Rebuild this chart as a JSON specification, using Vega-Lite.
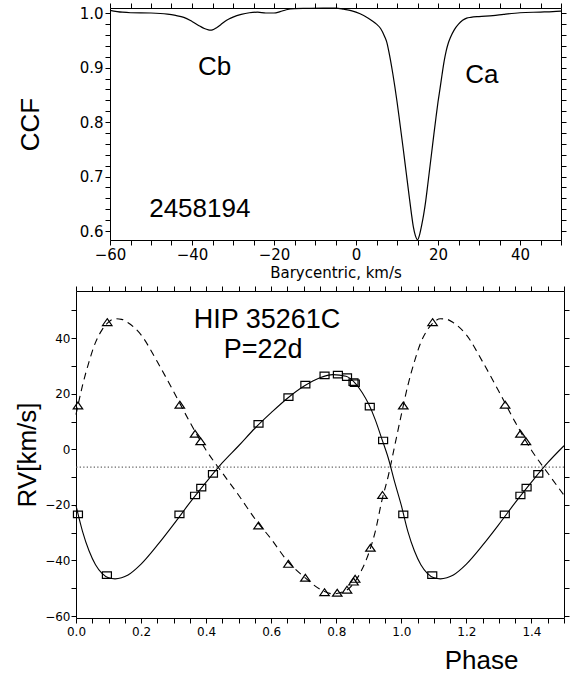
{
  "$schema": "https://vega.github.io/schema/vega-lite/v6.json",
  "padding": {"left": 14, "top": 2, "right": 3, "bottom": 0},
  "background": "white",
  "config": {
    "view": {"stroke": null},
    "axis": {"domainColor": "black", "labelColor": "black", "titleColor": "black", "grid": false, "labelFont": "DejaVu Sans", "titleFont": "Liberation Sans", "titleFontWeight": "normal", "labelFlush": false, "labelOverlap": false}
  },
  "spacing": 5,
  "datasets": {
    "ccf": [
      {"v": -60, "ccf": 1.0055}, {"v": -57, "ccf": 1.002}, {"v": -55, "ccf": 1.001}, {"v": -50, "ccf": 1.0005},
      {"v": -46, "ccf": 0.9985}, {"v": -44, "ccf": 0.996}, {"v": -42, "ccf": 0.9925}, {"v": -40, "ccf": 0.985},
      {"v": -38, "ccf": 0.976}, {"v": -37, "ccf": 0.972}, {"v": -36, "ccf": 0.9695}, {"v": -35.5, "ccf": 0.969},
      {"v": -35, "ccf": 0.9695}, {"v": -34, "ccf": 0.9735}, {"v": -33, "ccf": 0.979}, {"v": -32, "ccf": 0.985},
      {"v": -31, "ccf": 0.9895}, {"v": -30, "ccf": 0.993}, {"v": -28, "ccf": 0.998}, {"v": -26, "ccf": 1.001},
      {"v": -24, "ccf": 1.002}, {"v": -22, "ccf": 1.0005}, {"v": -20, "ccf": 1.0005}, {"v": -18.5, "ccf": 1.003},
      {"v": -17, "ccf": 1.0065}, {"v": -15, "ccf": 1.0085}, {"v": -12, "ccf": 1.009}, {"v": -8, "ccf": 1.0095},
      {"v": -5, "ccf": 1.0095}, {"v": -3, "ccf": 1.0075}, {"v": -1, "ccf": 1.0045}, {"v": 1, "ccf": 0.999},
      {"v": 3, "ccf": 0.991}, {"v": 4, "ccf": 0.986}, {"v": 5, "ccf": 0.98}, {"v": 6, "ccf": 0.972},
      {"v": 7, "ccf": 0.957}, {"v": 7.5, "ccf": 0.947}, {"v": 8, "ccf": 0.93}, {"v": 9, "ccf": 0.888},
      {"v": 10, "ccf": 0.838}, {"v": 10.5, "ccf": 0.81}, {"v": 11, "ccf": 0.781}, {"v": 11.5, "ccf": 0.752},
      {"v": 12, "ccf": 0.722}, {"v": 12.5, "ccf": 0.692}, {"v": 13, "ccf": 0.662}, {"v": 13.5, "ccf": 0.633},
      {"v": 14, "ccf": 0.607}, {"v": 14.5, "ccf": 0.591}, {"v": 15, "ccf": 0.584}, {"v": 15.5, "ccf": 0.593},
      {"v": 16, "ccf": 0.61}, {"v": 16.5, "ccf": 0.63}, {"v": 17, "ccf": 0.655}, {"v": 17.5, "ccf": 0.685},
      {"v": 18, "ccf": 0.716}, {"v": 18.5, "ccf": 0.747}, {"v": 19, "ccf": 0.778}, {"v": 19.5, "ccf": 0.808},
      {"v": 20, "ccf": 0.837}, {"v": 20.5, "ccf": 0.862}, {"v": 21, "ccf": 0.888}, {"v": 21.5, "ccf": 0.912},
      {"v": 22, "ccf": 0.931}, {"v": 22.5, "ccf": 0.945}, {"v": 23, "ccf": 0.955}, {"v": 24, "ccf": 0.97},
      {"v": 25, "ccf": 0.98}, {"v": 26, "ccf": 0.987}, {"v": 27, "ccf": 0.991}, {"v": 28, "ccf": 0.9925},
      {"v": 30, "ccf": 0.994}, {"v": 33.4, "ccf": 0.9956}, {"v": 36, "ccf": 0.998}, {"v": 40, "ccf": 1.001},
      {"v": 45, "ccf": 1.0022}, {"v": 48, "ccf": 1.003}, {"v": 50, "ccf": 1.004}
    ],
    "ccflabels": [
      {"v": -34.5, "ccf": 0.902, "label": "Cb"},
      {"v": 30.7, "ccf": 0.887, "label": "Ca"},
      {"v": -38.1, "ccf": 0.64, "label": "2458194"}
    ],
    "rvfit": [
      {"comp": "Ca", "phase": 0.00, "rv": -20.2}, {"comp": "Ca", "phase": 0.02, "rv": -29.5}, {"comp": "Ca", "phase": 0.04, "rv": -36.5},
      {"comp": "Ca", "phase": 0.06, "rv": -41.5}, {"comp": "Ca", "phase": 0.08, "rv": -44.6}, {"comp": "Ca", "phase": 0.10, "rv": -46.2},
      {"comp": "Ca", "phase": 0.12, "rv": -46.6}, {"comp": "Ca", "phase": 0.14, "rv": -46.2}, {"comp": "Ca", "phase": 0.16, "rv": -45.2},
      {"comp": "Ca", "phase": 0.20, "rv": -41.3}, {"comp": "Ca", "phase": 0.25, "rv": -34.5}, {"comp": "Ca", "phase": 0.30, "rv": -27.0},
      {"comp": "Ca", "phase": 0.35, "rv": -19.2}, {"comp": "Ca", "phase": 0.40, "rv": -11.8}, {"comp": "Ca", "phase": 0.45, "rv": -4.8},
      {"comp": "Ca", "phase": 0.50, "rv": 1.3}, {"comp": "Ca", "phase": 0.55, "rv": 7.6}, {"comp": "Ca", "phase": 0.60, "rv": 13.2},
      {"comp": "Ca", "phase": 0.65, "rv": 18.4}, {"comp": "Ca", "phase": 0.70, "rv": 22.7}, {"comp": "Ca", "phase": 0.75, "rv": 25.8},
      {"comp": "Ca", "phase": 0.79, "rv": 26.9}, {"comp": "Ca", "phase": 0.83, "rv": 26.3}, {"comp": "Ca", "phase": 0.86, "rv": 23.6},
      {"comp": "Ca", "phase": 0.88, "rv": 20.4}, {"comp": "Ca", "phase": 0.90, "rv": 16.2}, {"comp": "Ca", "phase": 0.92, "rv": 10.6},
      {"comp": "Ca", "phase": 0.94, "rv": 3.8}, {"comp": "Ca", "phase": 0.96, "rv": -3.2}, {"comp": "Ca", "phase": 0.98, "rv": -12.0},
      {"comp": "Ca", "phase": 1.00, "rv": -20.2}, {"comp": "Ca", "phase": 1.02, "rv": -29.5}, {"comp": "Ca", "phase": 1.04, "rv": -36.5},
      {"comp": "Ca", "phase": 1.06, "rv": -41.5}, {"comp": "Ca", "phase": 1.08, "rv": -44.6}, {"comp": "Ca", "phase": 1.10, "rv": -46.2},
      {"comp": "Ca", "phase": 1.12, "rv": -46.6}, {"comp": "Ca", "phase": 1.14, "rv": -46.2}, {"comp": "Ca", "phase": 1.16, "rv": -45.2},
      {"comp": "Ca", "phase": 1.20, "rv": -41.3}, {"comp": "Ca", "phase": 1.25, "rv": -34.5}, {"comp": "Ca", "phase": 1.30, "rv": -27.0},
      {"comp": "Ca", "phase": 1.35, "rv": -19.2}, {"comp": "Ca", "phase": 1.40, "rv": -11.8}, {"comp": "Ca", "phase": 1.45, "rv": -4.8},
      {"comp": "Ca", "phase": 1.50, "rv": 1.3},
      {"comp": "Cb", "phase": 0.00, "rv": 12.5}, {"comp": "Cb", "phase": 0.02, "rv": 23.0}, {"comp": "Cb", "phase": 0.04, "rv": 31.5},
      {"comp": "Cb", "phase": 0.06, "rv": 38.5}, {"comp": "Cb", "phase": 0.08, "rv": 43.0}, {"comp": "Cb", "phase": 0.10, "rv": 45.8},
      {"comp": "Cb", "phase": 0.12, "rv": 47.0}, {"comp": "Cb", "phase": 0.14, "rv": 46.8}, {"comp": "Cb", "phase": 0.16, "rv": 45.6},
      {"comp": "Cb", "phase": 0.20, "rv": 41.2}, {"comp": "Cb", "phase": 0.25, "rv": 31.5}, {"comp": "Cb", "phase": 0.30, "rv": 20.8},
      {"comp": "Cb", "phase": 0.35, "rv": 9.8}, {"comp": "Cb", "phase": 0.40, "rv": -0.3}, {"comp": "Cb", "phase": 0.45, "rv": -8.5},
      {"comp": "Cb", "phase": 0.50, "rv": -16.5}, {"comp": "Cb", "phase": 0.55, "rv": -25.0}, {"comp": "Cb", "phase": 0.60, "rv": -32.3},
      {"comp": "Cb", "phase": 0.65, "rv": -40.2}, {"comp": "Cb", "phase": 0.70, "rv": -45.8}, {"comp": "Cb", "phase": 0.75, "rv": -50.3},
      {"comp": "Cb", "phase": 0.79, "rv": -52.0}, {"comp": "Cb", "phase": 0.83, "rv": -50.8}, {"comp": "Cb", "phase": 0.86, "rv": -47.2},
      {"comp": "Cb", "phase": 0.88, "rv": -43.0}, {"comp": "Cb", "phase": 0.90, "rv": -37.3}, {"comp": "Cb", "phase": 0.92, "rv": -29.5},
      {"comp": "Cb", "phase": 0.94, "rv": -18.5}, {"comp": "Cb", "phase": 0.96, "rv": -9.5}, {"comp": "Cb", "phase": 0.98, "rv": 1.5},
      {"comp": "Cb", "phase": 1.00, "rv": 12.5}, {"comp": "Cb", "phase": 1.02, "rv": 23.0}, {"comp": "Cb", "phase": 1.04, "rv": 31.5},
      {"comp": "Cb", "phase": 1.06, "rv": 38.5}, {"comp": "Cb", "phase": 1.08, "rv": 43.0}, {"comp": "Cb", "phase": 1.10, "rv": 45.8},
      {"comp": "Cb", "phase": 1.12, "rv": 47.0}, {"comp": "Cb", "phase": 1.14, "rv": 46.8}, {"comp": "Cb", "phase": 1.16, "rv": 45.6},
      {"comp": "Cb", "phase": 1.20, "rv": 41.2}, {"comp": "Cb", "phase": 1.25, "rv": 31.5}, {"comp": "Cb", "phase": 1.30, "rv": 20.8},
      {"comp": "Cb", "phase": 1.35, "rv": 9.8}, {"comp": "Cb", "phase": 1.40, "rv": -0.3}, {"comp": "Cb", "phase": 1.45, "rv": -8.5},
      {"comp": "Cb", "phase": 1.50, "rv": -16.5}
    ],
    "obs": [
      {"comp": "Ca", "phase": 0.006, "rv": -23.4}, {"comp": "Ca", "phase": 0.095, "rv": -45.3}, {"comp": "Ca", "phase": 0.318, "rv": -23.4},
      {"comp": "Ca", "phase": 0.366, "rv": -16.6}, {"comp": "Ca", "phase": 0.385, "rv": -13.8}, {"comp": "Ca", "phase": 0.421, "rv": -8.8},
      {"comp": "Ca", "phase": 0.561, "rv": 9.2}, {"comp": "Ca", "phase": 0.653, "rv": 18.8}, {"comp": "Ca", "phase": 0.705, "rv": 23.3},
      {"comp": "Ca", "phase": 0.764, "rv": 26.6}, {"comp": "Ca", "phase": 0.805, "rv": 26.9}, {"comp": "Ca", "phase": 0.833, "rv": 26.0},
      {"comp": "Ca", "phase": 0.853, "rv": 24.2}, {"comp": "Ca", "phase": 0.857, "rv": 23.8}, {"comp": "Ca", "phase": 0.903, "rv": 15.4},
      {"comp": "Ca", "phase": 0.944, "rv": 3.2}, {"comp": "Ca", "phase": 1.006, "rv": -23.4}, {"comp": "Ca", "phase": 1.095, "rv": -45.3},
      {"comp": "Ca", "phase": 1.318, "rv": -23.4}, {"comp": "Ca", "phase": 1.366, "rv": -16.6}, {"comp": "Ca", "phase": 1.385, "rv": -13.8},
      {"comp": "Ca", "phase": 1.421, "rv": -8.8},
      {"comp": "Cb", "phase": 0.006, "rv": 15.8}, {"comp": "Cb", "phase": 0.096, "rv": 45.8}, {"comp": "Cb", "phase": 0.319, "rv": 16.1},
      {"comp": "Cb", "phase": 0.366, "rv": 5.6}, {"comp": "Cb", "phase": 0.383, "rv": 2.9}, {"comp": "Cb", "phase": 0.561, "rv": -27.4},
      {"comp": "Cb", "phase": 0.653, "rv": -41.2}, {"comp": "Cb", "phase": 0.705, "rv": -46.2}, {"comp": "Cb", "phase": 0.764, "rv": -51.4},
      {"comp": "Cb", "phase": 0.803, "rv": -51.6}, {"comp": "Cb", "phase": 0.833, "rv": -50.5}, {"comp": "Cb", "phase": 0.853, "rv": -47.6},
      {"comp": "Cb", "phase": 0.858, "rv": -46.6}, {"comp": "Cb", "phase": 0.905, "rv": -35.4}, {"comp": "Cb", "phase": 0.942, "rv": -16.4},
      {"comp": "Cb", "phase": 1.006, "rv": 15.8}, {"comp": "Cb", "phase": 1.096, "rv": 45.8}, {"comp": "Cb", "phase": 1.319, "rv": 16.1},
      {"comp": "Cb", "phase": 1.366, "rv": 5.6}, {"comp": "Cb", "phase": 1.383, "rv": 2.9}
    ],
    "gamma": [{"gamma": -6.4}],
    "rvlabels": [
      {"phase": 0.587, "rv": 46.5, "label": "HIP 35261C"},
      {"phase": 0.575, "rv": 35.7, "label": "P=22d"}
    ],
    "empty": []
  },
  "vconcat": [
    {
      "bounds": "flush",
      "spacing": 0,
      "hconcat": [
        {
          "width": 34,
          "height": 10,
          "data": {"name": "empty"},
          "mark": {"type": "point", "opacity": 0},
          "encoding": {}
        },
        {
          "width": 451,
          "height": 232,
          "layer": [
            {
              "data": {"name": "ccf"},
              "mark": {"type": "line", "color": "black", "strokeWidth": 1.2, "interpolate": "monotone"},
              "encoding": {
                "x": {"field": "v", "type": "quantitative", "scale": {"domain": [-60, 50], "nice": false, "zero": false},
                  "axis": {"orient": "bottom", "values": [-60,-55,-50,-45,-40,-35,-30,-25,-20,-15,-10,-5,0,5,10,15,20,25,30,35,40,45,50],
                    "labelExpr": "datum.value % 20 == 0 ? datum.label : ''",
                    "tickSize": 5, "tickColor": "#000",
                    "labelPadding": 2, "labelFontSize": 15,
                    "title": "Barycentric, km/s", "titleFont": "DejaVu Sans", "titleFontSize": 15, "titlePadding": 3}},
                "y": {"field": "ccf", "type": "quantitative", "scale": {"domain": [0.5835, 1.0097], "nice": false, "zero": false},
                  "axis": {"orient": "left", "values": [0.6,0.62,0.64,0.66,0.68,0.7,0.72,0.74,0.76,0.78,0.8,0.82,0.84,0.86,0.88,0.9,0.92,0.94,0.96,0.98,1.0],
                    "format": ".1f",
                    "labelExpr": "round(datum.value*100) % 10 == 0 ? datum.label : ''",
                    "tickSize": 5, "tickColor": "#000",
                    "labelPadding": 2, "labelFontSize": 15,
                    "title": "CCF", "titleFontSize": 26, "titleX": -72, "titleY": 116, "titleAlign": "center", "titleBaseline": "alphabetic", "titleAngle": -90}}
              }
            },
            {
              "data": {"name": "ccflabels"},
              "mark": {"type": "text", "font": "Liberation Sans", "fontSize": 26, "align": "center", "baseline": "middle", "color": "black"},
              "encoding": {
                "x": {"field": "v", "type": "quantitative", "scale": {"domain": [-60, 50], "nice": false, "zero": false},
                  "axis": {"orient": "top", "labels": false, "title": null, "tickSize": 5, "tickColor": "#000",
                    "values": [-60,-55,-50,-45,-40,-35,-30,-25,-20,-15,-10,-5,0,5,10,15,20,25,30,35,40,45,50]}},
                "y": {"field": "ccf", "type": "quantitative", "scale": {"domain": [0.5835, 1.0097], "nice": false, "zero": false},
                  "axis": {"orient": "right", "labels": false, "title": null, "tickSize": 5, "tickColor": "#000",
                    "values": [0.6,0.62,0.64,0.66,0.68,0.7,0.72,0.74,0.76,0.78,0.8,0.82,0.84,0.86,0.88,0.9,0.92,0.94,0.96,0.98,1.0]}},
                "text": {"field": "label"}
              }
            }
          ],
          "resolve": {"axis": {"x": "independent", "y": "independent"}}
        }
      ]
    },
    {
      "width": 488,
      "height": 327,
      "layer": [
        {
          "data": {"name": "rvfit"},
          "transform": [{"filter": "datum.comp == 'Ca'"}],
          "mark": {"type": "line", "color": "black", "strokeWidth": 1.1, "interpolate": "monotone"},
          "encoding": {
            "x": {"field": "phase", "type": "quantitative", "scale": {"domain": [0, 1.5], "nice": false, "zero": false},
              "axis": {"orient": "bottom", "values": [0,0.05,0.1,0.15,0.2,0.25,0.3,0.35,0.4,0.45,0.5,0.55,0.6,0.65,0.7,0.75,0.8,0.85,0.9,0.95,1.0,1.05,1.1,1.15,1.2,1.25,1.3,1.35,1.4,1.45,1.5],
                "format": ".1f",
                "labelExpr": "round(datum.value*100) % 20 == 0 ? datum.label : ''",
                "tickSize": 5, "tickColor": "#000",
                "labelPadding": 3, "labelFontSize": 12,
                "title": "Phase", "titleFontSize": 26, "titleX": 405, "titleY": 50, "titleAlign": "center", "titleBaseline": "alphabetic"}},
            "y": {"field": "rv", "type": "quantitative", "scale": {"domain": [-60.7, 57], "nice": false, "zero": false},
              "axis": {"orient": "left", "values": [-60,-50,-40,-30,-20,-10,0,10,20,30,40,50],
                "labelExpr": "datum.value % 20 == 0 ? datum.label : ''",
                "tickSize": 5, "tickColor": "#000",
                "labelPadding": 1, "labelFontSize": 12,
                "title": "RV[km/s]", "titleFontSize": 26, "titleX": -41, "titleY": 163.5, "titleAlign": "center", "titleBaseline": "alphabetic", "titleAngle": -90}}
          }
        },
        {
          "data": {"name": "rvfit"},
          "transform": [{"filter": "datum.comp == 'Cb'"}],
          "mark": {"type": "line", "color": "black", "strokeWidth": 1.1, "strokeDash": [7, 5], "interpolate": "monotone"},
          "encoding": {
            "x": {"field": "phase", "type": "quantitative", "axis": null},
            "y": {"field": "rv", "type": "quantitative", "axis": null}
          }
        },
        {
          "data": {"name": "gamma"},
          "mark": {"type": "rule", "color": "#666666", "strokeWidth": 1.3, "strokeDash": [1.3, 2.2]},
          "encoding": {
            "y": {"field": "gamma", "type": "quantitative", "axis": null}
          }
        },
        {
          "data": {"name": "obs"},
          "transform": [{"filter": "datum.comp == 'Ca'"}],
          "mark": {"type": "point", "shape": "M-1,-0.72H1V0.72H-1Z", "size": 81, "filled": false, "stroke": "black", "strokeWidth": 1.2, "opacity": 1},
          "encoding": {
            "x": {"field": "phase", "type": "quantitative", "axis": null},
            "y": {"field": "rv", "type": "quantitative", "axis": null}
          }
        },
        {
          "data": {"name": "obs"},
          "transform": [{"filter": "datum.comp == 'Cb'"}],
          "mark": {"type": "point", "shape": "M0,-0.72L1,0.72L-1,0.72Z", "size": 90, "filled": false, "stroke": "black", "strokeWidth": 1.2, "opacity": 1},
          "encoding": {
            "x": {"field": "phase", "type": "quantitative", "axis": null},
            "y": {"field": "rv", "type": "quantitative", "axis": null}
          }
        },
        {
          "data": {"name": "rvlabels"},
          "mark": {"type": "text", "font": "Liberation Sans", "fontSize": 27, "align": "center", "baseline": "middle", "color": "black"},
          "encoding": {
            "x": {"field": "phase", "type": "quantitative",
              "axis": {"orient": "top", "labels": false, "title": null, "tickSize": 5, "tickColor": "#000",
                "values": [0,0.05,0.1,0.15,0.2,0.25,0.3,0.35,0.4,0.45,0.5,0.55,0.6,0.65,0.7,0.75,0.8,0.85,0.9,0.95,1.0,1.05,1.1,1.15,1.2,1.25,1.3,1.35,1.4,1.45,1.5]}},
            "y": {"field": "rv", "type": "quantitative",
              "axis": {"orient": "right", "labels": false, "title": null, "tickSize": 5, "tickColor": "#000",
                "values": [-60,-50,-40,-30,-20,-10,0,10,20,30,40,50]}},
            "text": {"field": "label"}
          }
        }
      ],
      "resolve": {"axis": {"x": "independent", "y": "independent"}}
    }
  ]
}
